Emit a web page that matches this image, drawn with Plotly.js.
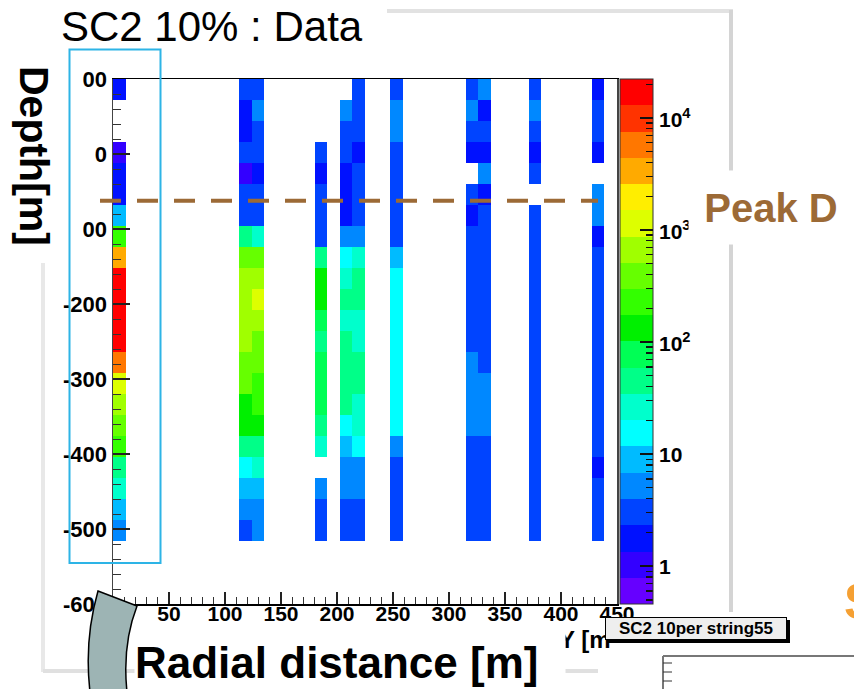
<!DOCTYPE html>
<html><head><meta charset="utf-8">
<script src="https://cdn.plot.ly/plotly-3.0.1.min.js"></script>
<style>html,body{margin:0;padding:0;background:#fff;} #chart{width:854px;height:689px;}</style>
</head><body><div id="chart"></div>
<script>
// ---------------- DATA ----------------
// 2D histogram: radial distance bins of 11.25 m (0..450 m), depth bins of 28 m from +100 m downward.
// Each array lists bin contents from the top depth bin downward (null = empty bin).
const radialBinWidth = 11.25;
const depthBinWidth = 28;
const depthTop = 100;
const nRadialBins = 40;
const filledRadialBins = [0, 10, 11, 16, 18, 19, 22, 28, 29, 33, 38];
const counts_r0  = [2, null, null, 1, 2, 2, 9, 240, 3100, 14500, 19000, 20500, 17000, 5700, 1100, 660, 390, 225, 45, 26, 8, 5];
const counts_r10 = [3, 2, 2, 3, 1, 3, 3, 45, 390, 660, 700, 640, 620, 400, 370, 130, 140, 48, 15, 8, 5, 3];
const counts_r11 = [3, 5, 3, 3, 2, 3, 3, 26, 380, 650, 1150, 680, 410, 360, 230, 220, 125, 44, 27, 8, 5, 5];
const counts_r16 = [null, null, null, 3, 2, 3, 3, 3, 46, 135, 150, 80, 50, 75, 78, 72, 42, 25, null, 5, 3, 3];
const counts_r18 = [null, 5, 3, 3, 2, 2, 2, 5, 15, 26, 45, 27, 48, 44, 46, 42, 14, 8, 5, 5, 3, 3];
const counts_r19 = [3, 3, 3, 2, 3, 3, 3, 5, 25, 44, 47, 26, 27, 45, 43, 25, 26, 15, 5, 5, 3, 3];
const counts_r22 = [3, 5, 5, 3, 3, 3, 3, 3, 8, 15, 14, 16, 15, 15, 14, 16, 15, 5, 3, 3, 3, 3];
const counts_r28 = [3, 5, 3, 2, null, 3, 2, 3, 3, 3, 3, 3, 3, 5, 5, 5, 5, 3, 3, 3, 3, 3];
const counts_r29 = [5, 2, 3, 2, 5, 2, 3, 3, 3, 3, 3, 3, 3, 3, 5, 5, 5, 3, 3, 3, 3, 3];
const counts_r33 = [3, 5, 3, 2, 3, null, 3, 3, 3, 3, 3, 3, 3, 3, 3, 3, 3, 3, 3, 3, 3, 3];
const counts_r38 = [2, 3, 3, 2, null, 5, 5, 2, 3, 3, 3, 3, 3, 3, 3, 3, 3, 3, 2, 3, 3, 3];
const columnCounts = [counts_r0, counts_r10, counts_r11, counts_r16, counts_r18, counts_r19,
                      counts_r22, counts_r28, counts_r29, counts_r33, counts_r38];

// colour axis (log10 of counts) and ROOT-like 20-band palette (bottom -> top)
const logZmin = -0.338, logZmax = 4.347;
const paletteBands = ['#6600FF','#3300FF','#0011FF','#0044FF','#0088FF','#00BBFF','#00FFFF','#00FFCC',
  '#00FF88','#00FF55','#00F000','#33FF00','#66FF00','#A0FF00','#DDFF00','#FFEE00','#FFAA00','#FF7700','#FF3300','#FF0000'];
const xTickVals = [0, 50, 100, 150, 200, 250, 300, 350, 400, 450];
const yTickVals = [100, 0, -100, -200, -300, -400, -500, -600];
const yTickText = ['00', '0', '00', '-200', '-300', '-400', '-500', '-600'];
const cbDecades = [0, 1, 2, 3, 4];
const cbDecadeText = ['1', '10', '10<sup>2</sup>', '10<sup>3</sup>', '10<sup>4</sup>'];

// ---------------- BUILD ----------------
const nRows = counts_r0.length;
const xCenters = [], yCenters = [];
for (let i = 0; i < nRadialBins; i++) xCenters.push((i + 0.5) * radialBinWidth);
for (let r = 0; r < nRows; r++) yCenters.push(depthTop - (r + 0.5) * depthBinWidth);
const z = [];
for (let r = 0; r < nRows; r++) {
  const row = new Array(nRadialBins).fill(null);
  filledRadialBins.forEach((b, k) => {
    const v = columnCounts[k][r];
    row[b] = (v === null) ? null : Math.log10(v);
  });
  z.push(row);
}
const colorscale = [];
paletteBands.forEach((c, i) => {
  colorscale.push([i / paletteBands.length, c]);
  colorscale.push([(i + 1) / paletteBands.length, c]);
});
// minor ticks for log colour bar
const cbMinor = [];
for (let d = -1; d <= 4; d++) for (let k = 1; k <= 9; k++) {
  const v = d + Math.log10(k);
  if (v >= logZmin && v <= logZmax) cbMinor.push(v);
}

// page geometry helpers (pixel -> paper)
const L = 113, R = 617, T = 79, B = 604;
const X = px => (px - L) / (R - L);
const Y = py => (B - py) / (B - T);
const P = (px, py) => X(px) + ',' + Y(py);

const FAM = 'Liberation Sans, Arial, sans-serif';
const rootFont = {family: FAM, size: 21, color: '#000', weight: 'bold'};

const cbCommon = {
  x: X(620), xanchor: 'left', y: 0, yanchor: 'bottom', len: 1, lenmode: 'fraction',
  thickness: 33, thicknessmode: 'pixels', xpad: 0, ypad: 0,
  tickmode: 'array', ticks: 'inside', tickcolor: '#111', tickwidth: 1.3, showticklabels: false
};

const traces = [
  {
    type: 'heatmap', x: xCenters, y: yCenters, z: z, zmin: logZmin, zmax: logZmax,
    colorscale: colorscale, hoverinfo: 'skip',
    colorbar: Object.assign({}, cbCommon, {tickvals: cbMinor, ticklen: 7, outlinewidth: 1, outlinecolor: '#333'})
  },
  {
    type: 'heatmap', x: [-100], y: [-1000], z: [[0]], zmin: logZmin, zmax: logZmax,
    colorscale: [[0, 'rgba(0,0,0,0)'], [1, 'rgba(0,0,0,0)']], hoverinfo: 'skip',
    colorbar: Object.assign({}, cbCommon, {tickvals: cbDecades, ticklen: 13, outlinewidth: 0})
  }
];

const grayLine = '#E2E2E2';
const shapes = [
  // canvas edges (light gray)
  {type: 'line', xref: 'paper', yref: 'paper', x0: X(387), x1: X(733), y0: Y(11), y1: Y(11), line: {color: grayLine, width: 4}, layer: 'above'},
  {type: 'line', xref: 'paper', yref: 'paper', x0: X(731), x1: X(731), y0: Y(10), y1: Y(612), line: {color: '#D4D4D4', width: 4}, layer: 'above'},
  {type: 'line', xref: 'paper', yref: 'paper', x0: X(43), x1: X(43), y0: Y(263), y1: Y(672), line: {color: '#E8E8E8', width: 4}, layer: 'above'},
  {type: 'line', xref: 'paper', yref: 'paper', x0: X(43), x1: X(598), y0: Y(671), y1: Y(671), line: {color: '#E0E0E0', width: 4}, layer: 'above'},
  // highlight box
  {type: 'rect', xref: 'paper', yref: 'paper', x0: X(69.5), x1: X(160.5), y0: Y(563), y1: Y(49.5), line: {color: '#2DB4E6', width: 2}, layer: 'above'},
  // Peak D depth line
  {type: 'line', xref: 'paper', yref: 'paper', x0: X(100), x1: X(598), y0: Y(200.7), y1: Y(200.7), line: {color: '#9C6A36', width: 4, dash: '21px,16px'}, layer: 'above'},
  // gray curved arrow piece
  {type: 'path', xref: 'paper', yref: 'paper', layer: 'above',
   path: 'M ' + P(98, 591) + ' L ' + P(137, 606) + ' Q ' + P(122, 645) + ' ' + P(127, 692) + ' L ' + P(90, 692) + ' Q ' + P(84, 640) + ' ' + P(98, 591) + ' Z',
   fillcolor: '#9DB4B4', line: {color: '#000', width: 1.5}},
  // shadow of small label box
  {type: 'rect', xref: 'paper', yref: 'paper', x0: X(608), x1: X(790), y0: Y(643), y1: Y(620), fillcolor: '#000', line: {width: 0}, layer: 'above'},
  // bottom-right partial frame
  {type: 'line', xref: 'paper', yref: 'paper', x0: X(663), x1: X(860), y0: Y(656), y1: Y(656), line: {color: '#777', width: 2}, layer: 'above'},
  {type: 'line', xref: 'paper', yref: 'paper', x0: X(663), x1: X(663), y0: Y(656), y1: Y(695), line: {color: '#777', width: 2}, layer: 'above'},
  {type: 'line', xref: 'paper', yref: 'paper', x0: X(663), x1: X(672), y0: Y(663), y1: Y(663), line: {color: '#333', width: 1}, layer: 'above'},
  {type: 'line', xref: 'paper', yref: 'paper', x0: X(663), x1: X(672), y0: Y(672), y1: Y(672), line: {color: '#333', width: 1}, layer: 'above'},
  {type: 'line', xref: 'paper', yref: 'paper', x0: X(663), x1: X(672), y0: Y(681), y1: Y(681), line: {color: '#333', width: 1}, layer: 'above'}
];

// colour-bar decade labels
const annotations = cbDecades.map((d, i) => ({
  text: cbDecadeText[i], xref: 'paper', yref: 'paper', x: X(657),
  y: (d - logZmin) / (logZmax - logZmin), xanchor: 'left', yanchor: 'middle', showarrow: false,
  font: rootFont
}));

annotations.push(
  {text: 'SC2 10% : Data', xref: 'paper', yref: 'paper', x: X(59), y: Y(26), xanchor: 'left', yanchor: 'middle', showarrow: false,
   font: {family: FAM, size: 42, color: '#000'}},
  {text: 'Depth[m]', xref: 'paper', yref: 'paper', x: X(34), y: Y(156), xanchor: 'center', yanchor: 'middle', showarrow: false, textangle: 90,
   font: {family: FAM, size: 41, color: '#000', weight: 'bold'}},
  {text: 'Y [m', xref: 'paper', yref: 'paper', x: X(557), y: Y(639), xanchor: 'left', yanchor: 'middle', showarrow: false,
   font: {family: FAM, size: 24, color: '#000', weight: 'bold'}},
  {text: 'Radial distance [m]', xref: 'paper', yref: 'paper', x: X(134), y: Y(662), xanchor: 'left', yanchor: 'middle', showarrow: false,
   width: 430, height: 72, align: 'left', bgcolor: '#fff', borderpad: 0,
   font: {family: FAM, size: 44, color: '#000', weight: 'bold'}},
  {text: 'SC2 10per string55', xref: 'paper', yref: 'paper', x: X(696), y: Y(628.5), xanchor: 'center', yanchor: 'middle', showarrow: false,
   width: 178, height: 19, bgcolor: '#EEEEEE', bordercolor: '#000', borderwidth: 1, borderpad: 1,
   font: {family: FAM, size: 17, color: '#000', weight: 'bold'}},
  // white panel behind "Peak D" with its label
  {text: 'Peak D', xref: 'paper', yref: 'paper', x: X(688), y: Y(170), xanchor: 'left', yanchor: 'top', showarrow: false,
   width: 164, height: 73, align: 'center', valign: 'middle', bgcolor: '#fff', borderpad: 0,
   font: {family: FAM, size: 40, color: '#9C6A36', weight: 'bold'}},
  {text: 'S', xref: 'paper', yref: 'paper', x: X(842), y: Y(602), xanchor: 'left', yanchor: 'middle', showarrow: false,
   font: {family: FAM, size: 50, color: '#F5A033', weight: 'bold'}}
);

const layout = {
  width: 854, height: 689,
  margin: {l: L, r: 854 - R, t: T, b: 689 - B, pad: 0},
  paper_bgcolor: '#fff', plot_bgcolor: '#fff',
  showlegend: false,
  xaxis: {
    range: [0, 450], tickmode: 'array', tickvals: xTickVals, ticktext: xTickVals.map(String),
    ticks: 'inside', ticklen: 12, tickcolor: '#222', tickwidth: 1.2, ticklabelstandoff: -10,
    minor: {tick0: 0, dtick: 10, ticks: 'inside', ticklen: 7, tickcolor: '#333', tickwidth: 1},
    showline: true, linecolor: '#000', linewidth: 1.5, mirror: true,
    showgrid: false, zeroline: false, tickfont: rootFont, fixedrange: true
  },
  yaxis: {
    range: [-600, 100], tickmode: 'array', tickvals: yTickVals, ticktext: yTickText,
    ticks: 'inside', ticklen: 17, tickcolor: '#222', tickwidth: 1.2,
    minor: {tick0: 0, dtick: 20, ticks: 'inside', ticklen: 8, tickcolor: '#333', tickwidth: 1},
    showline: true, linecolor: '#444', linewidth: 1.5, mirror: true,
    showgrid: false, zeroline: false, tickfont: Object.assign({}, rootFont, {size: 22}), fixedrange: true
  },
  shapes: shapes,
  annotations: annotations
};

Plotly.newPlot('chart', traces, layout, {staticPlot: true, displayModeBar: false});
</script>
</body></html>
